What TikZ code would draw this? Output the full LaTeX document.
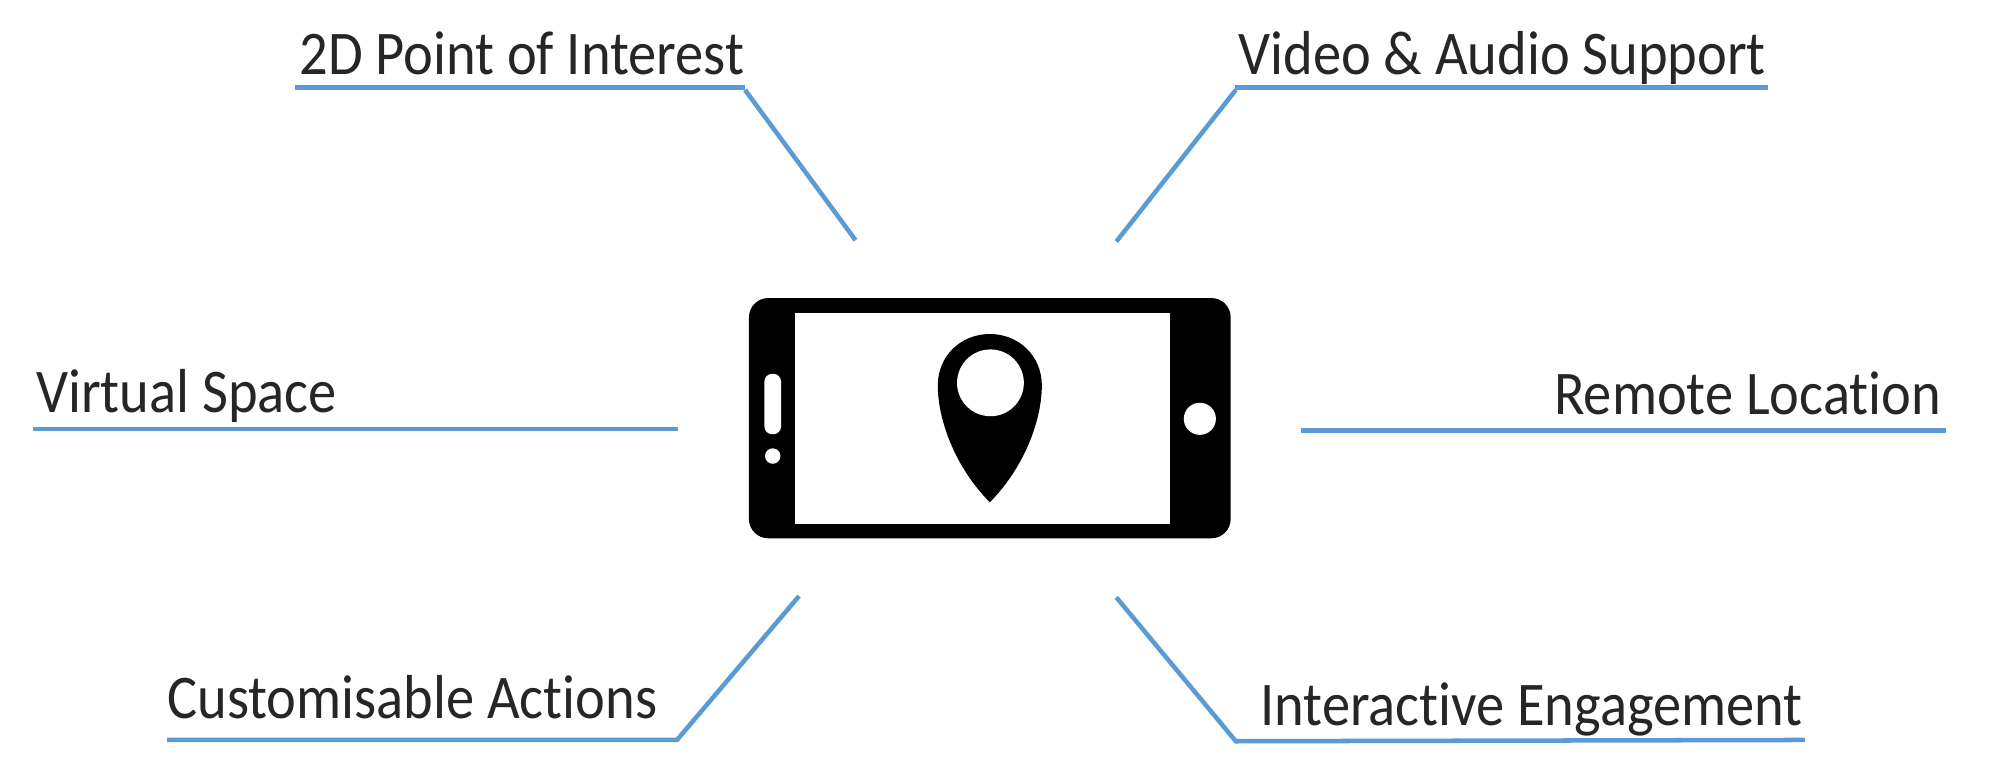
\documentclass[tikz,border=0pt]{standalone}
\usepackage{fontspec}
\setmainfont[Ligatures=NoCommon]{Carlito}
\definecolor{linkblue}{HTML}{5B9BD5}
\definecolor{labeltext}{HTML}{262626}
\newcommand{\tallt}[1]{\scalebox{1}[1.1]{#1}}
\tikzset{
  lead/.style={draw=linkblue,line width=1pt},
  lbl/.style={inner sep=0pt,text=labeltext,font=\fontsize{12.5pt}{14pt}\selectfont},
}
\begin{document}
\begin{tikzpicture}[x=0.01cm,y=-0.01cm]
\useasboundingbox (0,0) rectangle (1567,602.5);
\fill[white] (0,0) rectangle (1567,602.5);
% phone
\fill[black,rounded corners=0.15cm] (583,232) rectangle (958,419);
\fill[white] (619,244) rectangle (911,408);
\fill[white,rounded corners=0.06cm] (595,291) rectangle (608,338);
\fill[white] (601.5,355) circle[radius=6];
\fill[white] (934,326) circle[radius=12.5];
% pin
\fill[black] (770.5,391) .. controls (742,362) and (730,325) .. (730,300)
  .. controls (730,277) and (748,260) .. (770.5,260)
  .. controls (793,260) and (811,277) .. (811,300)
  .. controls (811,325) and (799,362) .. (770.5,391) -- cycle;
\fill[white] (771,298) circle[radius=26];
% labels
\node[lbl,anchor=base west] (poi) at (232.5,58) {\tallt{2D Point of Interest}};
\node[lbl,anchor=base west] (video) at (963.5,58) {\tallt{Video \& Audio Support}};
\node[lbl,anchor=base west] (virtual) at (27.5,321) {\tallt{Virtual Space}};
\node[lbl,anchor=base east] (remote) at (1511.5,323) {\tallt{Remote Location}};
\node[lbl,anchor=base west] (custom) at (129.5,559) {\tallt{Customisable Actions}};
\node[lbl,anchor=base west] (inter) at (980.5,565) {\tallt{Interactive Engagement}};
% connector points
\coordinate (a0) at (230,68); \coordinate (a1) at (580,68);
\coordinate (a2) at (580,70); \coordinate (a3) at (666,187);
\coordinate (b0) at (1376,68); \coordinate (b1) at (961,68);
\coordinate (b2) at (962,70); \coordinate (b3) at (869,188);
\coordinate (c0) at (26,334); \coordinate (c1) at (528,334);
\coordinate (d0) at (1013,335); \coordinate (d1) at (1515,335);
\coordinate (e0) at (130,576); \coordinate (e1) at (527,576); \coordinate (e2) at (622,464);
\coordinate (f0) at (869,465); \coordinate (f1) at (962,577); \coordinate (f2) at (1405,576);
\draw[lead] (a0) -- (a1);
\draw[lead] (a2) -- (a3);
\draw[lead] (b0) -- (b1);
\draw[lead] (b2) -- (b3);
\draw[lead] (c0) -- (c1);
\draw[lead] (d0) -- (d1);
\draw[lead] (e0) -- (e1) -- (e2);
\draw[lead] (f0) -- (f1) -- (f2);
\end{tikzpicture}
\end{document}
